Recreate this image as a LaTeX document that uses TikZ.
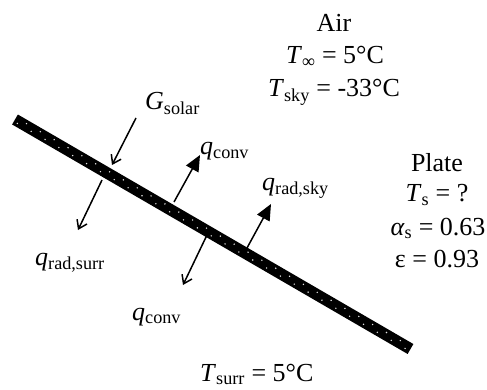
\documentclass[tikz,border=0pt]{standalone}
\usepackage{fontspec}
\setmainfont{Liberation Serif}
\usetikzlibrary{arrows.meta}

\begin{document}
\begin{tikzpicture}[
    x=1pt, y=-1pt,
    lbl/.style={inner sep=0pt, font=\fontsize{26}{30}\selectfont},
    bigarrow/.style={line width=1.5pt, -{Triangle[length=16pt,width=14pt]}},
    thinarrow/.style={line width=1.5pt, -{Straight Barb[length=8pt,width=11pt,line width=1.5pt]}}
]
    \useasboundingbox (0,0) rectangle (487,390);

    % 1. The plate, a thick black bar with a row of light dots
    \coordinate (pa) at (15,119.5);
    \coordinate (pb) at (410.5,349);
    \draw[line width=11.5pt, black] (pa) -- (pb);
    \foreach \s [evaluate=\s as \o using {mod(\s,2)==0 ? 2.2 : -2.2}] in {0,...,56} {
        \fill[gray!25] ({15 + 0.8654*(4+8*\s) - 0.502*\o}, {119.5 + 0.5022*(4+8*\s) + 0.865*\o}) circle (0.8pt);
    }

    % 2. Air and plate data
    \node[lbl, anchor=base] (air) at (334,32) {Air};
    \node[lbl, anchor=base] (tinf) at (335,64) {\textit{T}\textsubscript{∞} = 5°C};
    \node[lbl, anchor=base] (tsky) at (334,97) {\textit{T}\textsubscript{sky} = -33°C};

    \node[lbl, anchor=base] (plate) at (437,172) {Plate};
    \node[lbl, anchor=base] (ts) at (437,202) {\textit{T}\textsubscript{s} = ?};
    \node[lbl, anchor=base] (alpha) at (438,235) {\textit{α}\textsubscript{s} = 0.63};
    \node[lbl, anchor=base] (eps) at (437,267) {ε = 0.93};

    \node[lbl, anchor=base west] (tsurr) at (200,381) {\textit{T}\textsubscript{surr} = 5°C};

    % 3. Heat flows, drawn square to the plate
    \node[lbl, anchor=base west] (gsolar) at (145,110) {\textit{G}\textsubscript{solar}};
    \node[lbl, anchor=base west] (qconvup) at (200,155) {\textit{q}\textsubscript{conv}};
    \node[lbl, anchor=base west] (qradsky) at (262,190) {\textit{q}\textsubscript{rad,sky}};
    \node[lbl, anchor=base west] (qradsurr) at (35,265) {\textit{q}\textsubscript{rad,surr}};
    \node[lbl, anchor=base west] (qconvdn) at (132,320) {\textit{q}\textsubscript{conv}};

    \coordinate (g0) at (136,118);    \coordinate (g1) at (112,165);
    \coordinate (cu0) at (174,202);   \coordinate (cu1) at (200,155);
    \coordinate (rs0) at (247,248);   \coordinate (rs1) at (271,204);
    \coordinate (rr0) at (102,180);   \coordinate (rr1) at (78,230);
    \coordinate (cd0) at (207,235);   \coordinate (cd1) at (183,285);

    \draw[thinarrow] (g0) -- (g1);
    \draw[bigarrow] (cu0) -- (cu1);
    \draw[bigarrow] (rs0) -- (rs1);
    \draw[thinarrow] (rr0) -- (rr1);
    \draw[thinarrow] (cd0) -- (cd1);

\end{tikzpicture}
\end{document}
